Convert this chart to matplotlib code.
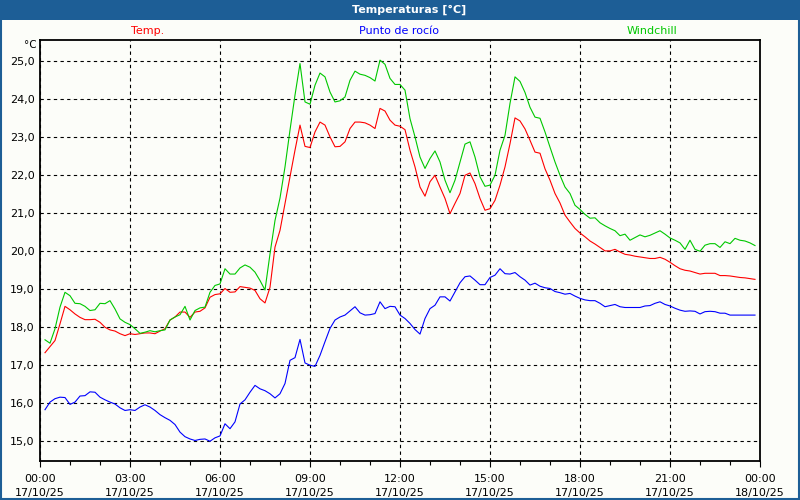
import numpy as np
import matplotlib
matplotlib.use("Agg")
import matplotlib.pyplot as plt
from matplotlib.patches import Rectangle

# readings every 10 minutes, from 00:10 to 23:50 (hours)
hours = np.arange(1, 144) / 6.0

temp = [17.32, 17.48, 17.64, 18.08, 18.54, 18.45, 18.34, 18.25, 18.19, 18.19, 18.20, 18.12,
        17.99, 17.92, 17.89, 17.82, 17.77, 17.82, 17.80, 17.82, 17.84, 17.84, 17.82, 17.89,
        17.95, 18.18, 18.26, 18.39, 18.39, 18.25, 18.39, 18.41, 18.50, 18.78, 18.85, 18.87,
        19.01, 18.91, 18.92, 19.06, 19.04, 19.02, 18.96, 18.74, 18.63, 19.04, 20.10, 20.54,
        21.25, 21.95, 22.65, 23.31, 22.75, 22.72, 23.13, 23.39, 23.31, 23.00, 22.74, 22.75,
        22.87, 23.22, 23.39, 23.39, 23.37, 23.31, 23.22, 23.75, 23.68, 23.44, 23.31, 23.28,
        23.19, 22.65, 22.21, 21.68, 21.44, 21.82, 21.99, 21.68, 21.38, 20.98, 21.25, 21.51,
        21.99, 22.05, 21.77, 21.38, 21.07, 21.11, 21.33, 21.73, 22.21, 22.82, 23.50, 23.42,
        23.21, 22.91, 22.60, 22.57, 22.16, 21.86, 21.51, 21.26, 20.94, 20.76, 20.59, 20.47,
        20.37, 20.26, 20.18, 20.09, 20.00, 20.00, 20.04, 19.97, 19.91, 19.89, 19.86, 19.84,
        19.82, 19.80, 19.80, 19.83, 19.78, 19.70, 19.61, 19.53, 19.49, 19.47, 19.43, 19.39,
        19.41, 19.41, 19.41, 19.35, 19.35, 19.34, 19.32, 19.30, 19.29, 19.27, 19.25]

dew = [15.82, 16.02, 16.11, 16.15, 16.14, 15.96, 16.02, 16.18, 16.19, 16.29, 16.28, 16.15,
       16.08, 16.02, 15.97, 15.87, 15.80, 15.82, 15.80, 15.89, 15.95, 15.89, 15.80, 15.69,
       15.61, 15.54, 15.43, 15.23, 15.11, 15.05, 15.01, 15.04, 15.05, 14.99, 15.08, 15.13,
       15.45, 15.32, 15.50, 15.97, 16.08, 16.28, 16.46, 16.37, 16.32, 16.24, 16.13, 16.24,
       16.51, 17.12, 17.19, 17.67, 17.05, 16.99, 16.96, 17.25, 17.61, 17.96, 18.18, 18.26,
       18.31, 18.42, 18.53, 18.37, 18.31, 18.32, 18.35, 18.66, 18.48, 18.54, 18.53, 18.31,
       18.22, 18.09, 17.93, 17.81, 18.22, 18.48, 18.57, 18.79, 18.79, 18.68, 18.92, 19.16,
       19.32, 19.34, 19.23, 19.11, 19.11, 19.30, 19.36, 19.53, 19.40, 19.39, 19.43, 19.32,
       19.23, 19.10, 19.15, 19.07, 19.03, 19.01, 18.93, 18.90, 18.86, 18.88, 18.81, 18.75,
       18.71, 18.69, 18.69, 18.62, 18.53, 18.56, 18.59, 18.53, 18.51, 18.51, 18.51, 18.51,
       18.55, 18.56, 18.62, 18.66, 18.59, 18.55, 18.49, 18.44, 18.41, 18.42, 18.41, 18.34,
       18.40, 18.41, 18.40, 18.36, 18.36, 18.31, 18.31, 18.31, 18.31, 18.31, 18.31]

windchill = [17.66, 17.57, 17.95, 18.52, 18.91, 18.82, 18.62, 18.61, 18.54, 18.43, 18.45, 18.62,
             18.61, 18.69, 18.47, 18.21, 18.12, 18.06, 17.95, 17.83, 17.86, 17.90, 17.87, 17.90,
             17.92, 18.18, 18.26, 18.32, 18.54, 18.18, 18.43, 18.50, 18.52, 18.91, 19.09, 19.13,
             19.53, 19.39, 19.39, 19.55, 19.63, 19.57, 19.44, 19.22, 18.97, 19.92, 20.80, 21.39,
             22.21, 23.18, 24.10, 24.93, 23.92, 23.86, 24.36, 24.68, 24.58, 24.18, 23.92, 23.95,
             24.05, 24.49, 24.73, 24.65, 24.62, 24.56, 24.47, 25.02, 24.91, 24.54, 24.38, 24.38,
             24.23, 23.48, 23.00, 22.47, 22.17, 22.43, 22.63, 22.34, 21.86, 21.53, 21.86, 22.34,
             22.81, 22.87, 22.47, 21.95, 21.70, 21.73, 21.99, 22.65, 23.04, 23.88, 24.58, 24.46,
             24.17, 23.78, 23.52, 23.49, 23.13, 22.73, 22.34, 21.99, 21.68, 21.51, 21.20, 21.09,
             20.96, 20.86, 20.87, 20.74, 20.66, 20.59, 20.53, 20.40, 20.44, 20.28, 20.35, 20.42,
             20.37, 20.41, 20.47, 20.53, 20.44, 20.34, 20.28, 20.21, 20.04, 20.28, 20.04, 19.99,
             20.15, 20.19, 20.19, 20.09, 20.24, 20.19, 20.33, 20.28, 20.26, 20.21, 20.14]

xticks = [0, 3, 6, 9, 12, 15, 18, 21, 24]
xlabels = ["00:00\n17/10/25", "03:00\n17/10/25", "06:00\n17/10/25", "09:00\n17/10/25",
           "12:00\n17/10/25", "15:00\n17/10/25", "18:00\n17/10/25", "21:00\n17/10/25",
           "00:00\n18/10/25"]
yticks = [15, 16, 17, 18, 19, 20, 21, 22, 23, 24, 25]

bg = "#fcfdf9"
bar = "#1d5e96"

plt.rcParams['font.family'] = ['DejaVu Sans']
fig = plt.figure(figsize=(8, 5), dpi=100, facecolor=bg)

# title bar and frame
fig.patches.append(Rectangle((0, 0.96), 1, 0.04, transform=fig.transFigure,
                             facecolor=bar, edgecolor="none"))
fig.patches.append(Rectangle((0.001, 0.002), 0.998, 0.996, transform=fig.transFigure,
                             facecolor="none", edgecolor=bar, lw=1.5))
fig.text(0.512, 0.98, "Temperaturas [°C]", color="white", fontsize=8, fontweight="bold",
         ha="center", va="center")

fig.text(0.184, 0.938, "Temp.", color="#ff0000", fontsize=8, ha="center", va="center")
fig.text(0.499, 0.938, "Punto de rocío", color="#0000ff", fontsize=8, ha="center", va="center")
fig.text(0.815, 0.938, "Windchill", color="#00c800", fontsize=8, ha="center", va="center")
fig.text(0.046, 0.909, "°C", color="black", fontsize=7.5, ha="right", va="center")

ax = fig.add_axes([0.05, 0.078, 0.90, 0.842], facecolor=bg)
ax.plot(hours, temp, color="#ff0000", lw=0.8)
ax.plot(hours, dew, color="#0000ff", lw=0.8)
ax.plot(hours, windchill, color="#00c800", lw=0.8)

ax.set_xlim(0, 24)
ax.set_ylim(14.47, 25.55)
ax.set_xticks(xticks)
ax.set_xticklabels(xlabels, fontsize=8, linespacing=1.6)
ax.set_xticks(range(25), minor=True)
ax.set_yticks(yticks)
ax.set_yticklabels([("%.1f" % v).replace(".", ",") for v in yticks], fontsize=8)
ax.tick_params(axis="x", which="major", length=4, width=0.8, pad=5)
ax.tick_params(axis="x", which="minor", length=3, width=0.8)
ax.tick_params(axis="y", length=0, pad=4)
ax.grid(True, which="major", color="black", lw=0.8, linestyle=(0, (3, 3)))
for s in ax.spines.values():
    s.set_linewidth(1.3)
    s.set_color("black")

fig.savefig("out.png", dpi=100, facecolor=bg)
